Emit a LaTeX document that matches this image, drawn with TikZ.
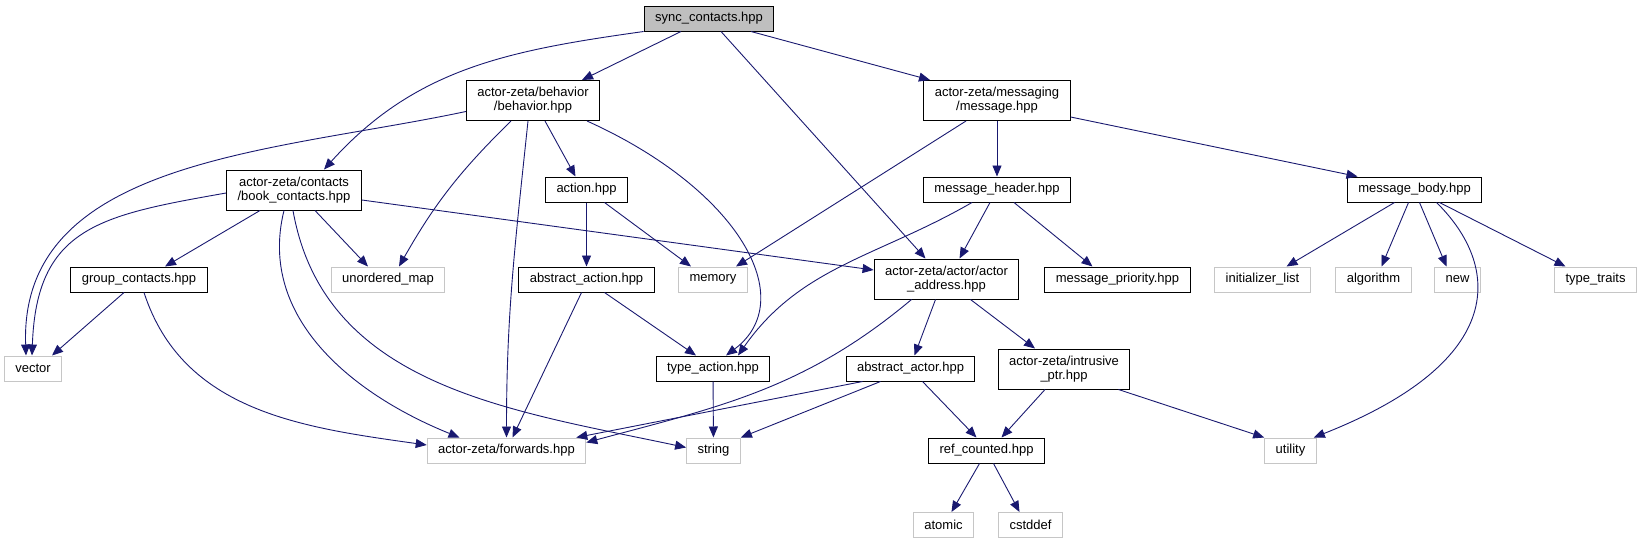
\documentclass[tikz,border=0pt]{standalone}
\usepackage{fontspec}
\setmainfont{Liberation Sans}
\usepackage{xcolor}
\usepackage{tikz}
\usetikzlibrary{arrows.meta, positioning}
\definecolor{edgeblue}{RGB}{25,25,112}

\begin{document}
\begin{tikzpicture}[
    x=1pt, y=-1pt,
    every node/.style={font=\fontsize{13}{14}\selectfont},
    block/.style={rectangle, draw=black, line width=1pt, align=center,
                  inner xsep=11pt, inner ysep=4pt, minimum height=25pt},
    twoline/.style={minimum height=40pt},
    sysinc/.style={block, draw=gray!45},
    focus/.style={block, fill=gray!50},
    arrow/.style={-{Triangle[length=11pt,width=9pt]}, line width=0.9pt, draw=edgeblue},
]
\useasboundingbox (0,0) rectangle (1643,544);

% Row 1: the file itself
\node[focus] (sync) at (709,18.5) {sync\_contacts.hpp};

% Row 2
\node[block, twoline] (behavior) at (533,100.5) {actor-zeta/behavior\\/behavior.hpp};
\node[block, twoline] (message) at (997,100.5) {actor-zeta/messaging\\/message.hpp};

% Row 3
\node[block, twoline] (book) at (294,190) {actor-zeta/contacts\\/book\_contacts.hpp};
\node[block] (action) at (586.5,189.5) {action.hpp};
\node[block] (header) at (997,189.5) {message\_header.hpp};
\node[block] (body) at (1414.5,189.5) {message\_body.hpp};

% Row 4
\node[block] (group) at (139,279.5) {group\_contacts.hpp};
\node[sysinc] (umap) at (388,279.5) {unordered\_map};
\node[block] (absaction) at (586.5,279.5) {abstract\_action.hpp};
\node[sysinc] (memory) at (713,279.5) {memory};
\node[block, twoline] (address) at (946.5,279) {actor-zeta/actor/actor\\\_address.hpp};
\node[block] (priority) at (1117.5,279.5) {message\_priority.hpp};
\node[sysinc] (initlist) at (1262.5,279.5) {initializer\_list};
\node[sysinc] (algo) at (1373.5,279.5) {algorithm};
\node[sysinc] (new) at (1457.5,279.5) {new};
\node[sysinc] (typetraits) at (1595.5,279.5) {type\_traits};

% Row 5
\node[sysinc] (vector) at (33,368.5) {vector};
\node[block] (typeaction) at (713,368.5) {type\_action.hpp};
\node[block] (absactor) at (910.5,368.5) {abstract\_actor.hpp};
\node[block, twoline] (intrusive) at (1064,369) {actor-zeta/intrusive\\\_ptr.hpp};

% Row 6
\node[sysinc] (forwards) at (506.5,450.5) {actor-zeta/forwards.hpp};
\node[sysinc] (string) at (713.5,450.5) {string};
\node[block] (refcnt) at (986.5,450.5) {ref\_counted.hpp};
\node[sysinc] (utility) at (1290.5,450.5) {utility};

% Row 7
\node[sysinc] (atomic) at (943.5,525) {atomic};
\node[sysinc] (cstddef) at (1030.5,525) {cstddef};

% Arrows
\draw[arrow] (sync.south west) to[out=188,in=48] ([xshift=30pt]book.north);
\draw[arrow] ([xshift=-28pt]sync.south) -- ([xshift=49pt]behavior.north);
\draw[arrow] ([xshift=12pt]sync.south) -- ([xshift=-21pt]address.north);
\draw[arrow] ([xshift=42pt]sync.south) -- ([xshift=-67pt]message.north);

\draw[arrow] ([yshift=-11pt]behavior.west) to[out=192,in=92] ([xshift=-7pt]vector.north);
\draw[arrow] ([xshift=-22pt]behavior.south) to[bend right=8] ([xshift=11pt]umap.north);
\draw[arrow] ([xshift=-5pt]behavior.south) to[out=-96,in=90] (forwards.north);
\draw[arrow] ([xshift=12pt]behavior.south) -- ([xshift=-11pt]action.north);
\draw[arrow] ([xshift=54pt]behavior.south) .. controls (740,190) and (800,300) .. ([xshift=13pt]typeaction.north);

\draw[arrow] ([xshift=-31pt]message.south) -- ([xshift=23pt]memory.north);
\draw[arrow] (message) -- (header);
\draw[arrow] ([yshift=4pt]message.south east) -- ([xshift=-57pt]body.north);

\draw[arrow] ([yshift=-3pt]book.west) to[out=190,in=88,looseness=1.3] ([xshift=-1pt]vector.north);
\draw[arrow] ([xshift=-34pt]book.south) -- ([xshift=26pt]group.north);
\draw[arrow] ([xshift=21pt]book.south) -- ([xshift=-20pt]umap.north);
\draw[arrow] ([xshift=-10pt]book.south) to[out=-104,in=158] ([xshift=-47pt]forwards.north);
\draw[arrow] ([xshift=-1pt]book.south) to[out=-80,in=168] ([yshift=3pt]string.west);
\draw[arrow] ([yshift=-10pt]book.east) -- ([yshift=9pt]address.west);

\draw[arrow] (action) -- (absaction);
\draw[arrow] ([xshift=18pt]action.south) -- ([xshift=-22pt]memory.north);

\draw[arrow] ([xshift=-25pt]header.south) to[out=-150,in=55] ([xshift=25pt]typeaction.north);
\draw[arrow] ([xshift=-7pt]header.south) -- ([xshift=13pt]address.north);
\draw[arrow] ([xshift=17pt]header.south) -- ([xshift=-25pt]priority.north);

\draw[arrow] ([xshift=-20pt]body.south) -- ([xshift=24pt]initlist.north);
\draw[arrow] ([xshift=-6pt]body.south) -- ([xshift=8pt]algo.north);
\draw[arrow] ([xshift=5pt]body.south) -- ([xshift=-11pt]new.north);
\draw[arrow] ([xshift=25pt]body.south) -- ([xshift=-30pt]typetraits.north);
\draw[arrow] ([xshift=22pt]body.south) .. controls (1500,265) and (1510,360) .. ([xshift=-3pt]utility.north east);

\draw[arrow] ([xshift=-15pt]group.south) -- ([xshift=19pt]vector.north);
\draw[arrow] ([xshift=5pt]group.south) to[out=-72,in=172] ([yshift=5.5pt]forwards.west);

\draw[arrow] ([xshift=-5pt]absaction.south) -- ([xshift=6pt]forwards.north);
\draw[arrow] ([xshift=18pt]absaction.south) -- ([xshift=-17pt]typeaction.north);

\draw[arrow] ([xshift=-35pt]address.south) to[out=-140,in=15] ([yshift=8pt]forwards.east);
\draw[arrow] ([xshift=-11pt]address.south) -- ([xshift=4pt]absactor.north);
\draw[arrow] ([xshift=24pt]address.south) -- ([xshift=-29pt]intrusive.north);

\draw[arrow] (typeaction) -- (string);

\draw[arrow] ([xshift=-48pt]absactor.south) -- ([xshift=-10pt]forwards.north east);
\draw[arrow] ([xshift=-30pt]absactor.south) -- (string.north east);
\draw[arrow] ([xshift=12pt]absactor.south) -- ([xshift=-10pt]refcnt.north);

\draw[arrow] ([xshift=-19pt]intrusive.south) -- ([xshift=15pt]refcnt.north);
\draw[arrow] ([xshift=-12pt]intrusive.south east) -- (utility.north west);

\draw[arrow] ([xshift=-7pt]refcnt.south) -- ([xshift=8pt]atomic.north);
\draw[arrow] ([xshift=7pt]refcnt.south) -- ([xshift=-11pt]cstddef.north);

\end{tikzpicture}
\end{document}
